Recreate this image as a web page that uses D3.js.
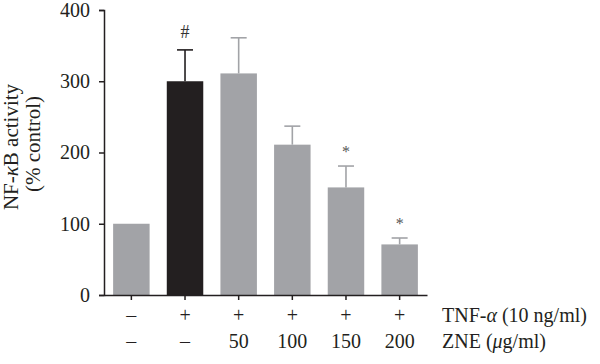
<!DOCTYPE html>
<html><head><meta charset="utf-8">
<script src="https://cdn.jsdelivr.net/npm/d3@7"></script>
<style>body{margin:0;background:#fff}svg{display:block}</style>
</head><body><svg id="c" width="600" height="364"></svg>
<script>
const categories = ["ctrl","TNF","ZNE50","ZNE100","ZNE150","ZNE200"];
const values = [100, 300, 311, 211, 151, 71];
const errors = [0, 44, 50, 26, 30, 9];
const tnfLabels = ["–","+","+","+","+","+"];
const zneLabels = ["–","–","50","100","150","200"];
const marks = ["","#","","","*","*"];
const barColors = ["#a2a3a7","#231f20","#a2a3a7","#a2a3a7","#a2a3a7","#a2a3a7"];
const yTicks = [0,100,200,300,400];

const svg = d3.select("#c");
const font = "'Liberation Serif', 'Times New Roman', serif";
const fs = 20;
const ink = "#231f20";
const x = d3.scaleBand().domain(categories).range([104,427]).paddingInner(0.32).paddingOuter(0.17);
const y = d3.scaleLinear().domain([0,400]).range([295,10]);

// bars
svg.selectAll("rect.bar").data(categories).join("rect")
  .attr("x", d=>x(d)).attr("width", x.bandwidth())
  .attr("y", (d,i)=>y(values[i])).attr("height", (d,i)=>y(0)-y(values[i]))
  .attr("fill", (d,i)=>barColors[i]);

// error bars
const cap = 8;
categories.forEach((d,i)=>{
  if(!errors[i]) return;
  const cx = x(d)+x.bandwidth()/2;
  const top = y(values[i]+errors[i]);
  const g = svg.append("g").attr("stroke", barColors[i]).attr("stroke-width",1.6);
  g.append("line").attr("x1",cx).attr("x2",cx).attr("y1",y(values[i])).attr("y2",top);
  g.append("line").attr("x1",cx-cap).attr("x2",cx+cap).attr("y1",top).attr("y2",top);
  if(marks[i]) svg.append("text").attr("x",cx).attr("y", marks[i]==="#" ? top-12 : top-9)
    .attr("text-anchor","middle").attr("font-family",font).attr("font-size", marks[i]==="#" ? 18 : 16)
    .attr("fill", marks[i]==="#" ? "#333" : "#555").text(marks[i]);
});

// y axis
const ya = svg.append("g").attr("transform","translate(104,0)")
  .call(d3.axisLeft(y).tickValues(yTicks).tickSize(5).tickPadding(9));
ya.select(".domain").attr("stroke",ink).attr("stroke-width",1.5);
ya.selectAll(".tick line").attr("stroke",ink).attr("stroke-width",1.5);
ya.selectAll("text").attr("font-family",font).attr("font-size",fs).attr("fill",ink);

// x axis
const xa = svg.append("g").attr("transform","translate(0,295)")
  .call(d3.axisBottom(x).tickSizeInner(5).tickSizeOuter(0).tickFormat(""));
xa.select(".domain").attr("stroke",ink).attr("stroke-width",1.5);
xa.selectAll(".tick line").attr("stroke",ink).attr("stroke-width",1.5);

// row labels
categories.forEach((d,i)=>{
  const cx = x(d)+x.bandwidth()/2;
  svg.append("text").attr("x",cx).attr("y",322).attr("text-anchor","middle")
    .attr("font-family",font).attr("font-size",fs).attr("fill",ink).text(tnfLabels[i]);
  svg.append("text").attr("x",cx).attr("y",348).attr("text-anchor","middle")
    .attr("font-family",font).attr("font-size",fs).attr("fill",ink).text(zneLabels[i]);
});
const t1 = svg.append("text").attr("x",442).attr("y",322).attr("font-family",font).attr("font-size",fs).attr("fill",ink);
t1.append("tspan").text("TNF-");
t1.append("tspan").attr("font-style","italic").text("α");
t1.append("tspan").text(" (10 ng/ml)");
const t2 = svg.append("text").attr("x",442).attr("y",348).attr("font-family",font).attr("font-size",fs).attr("fill",ink);
t2.append("tspan").text("ZNE (");
t2.append("tspan").attr("font-style","italic").text("μ");
t2.append("tspan").text("g/ml)");

// y label
const yl = svg.append("text").attr("transform","translate(18,147) rotate(-90)").attr("text-anchor","middle")
  .attr("font-family",font).attr("font-size",21).attr("fill",ink);
yl.append("tspan").text("NF-");
yl.append("tspan").attr("font-style","italic").text("κ");
yl.append("tspan").text("B activity");
svg.append("text").attr("transform","translate(40,144) rotate(-90)").attr("text-anchor","middle")
  .attr("font-family",font).attr("font-size",21).attr("fill",ink).text("(% control)");
</script></body></html>
